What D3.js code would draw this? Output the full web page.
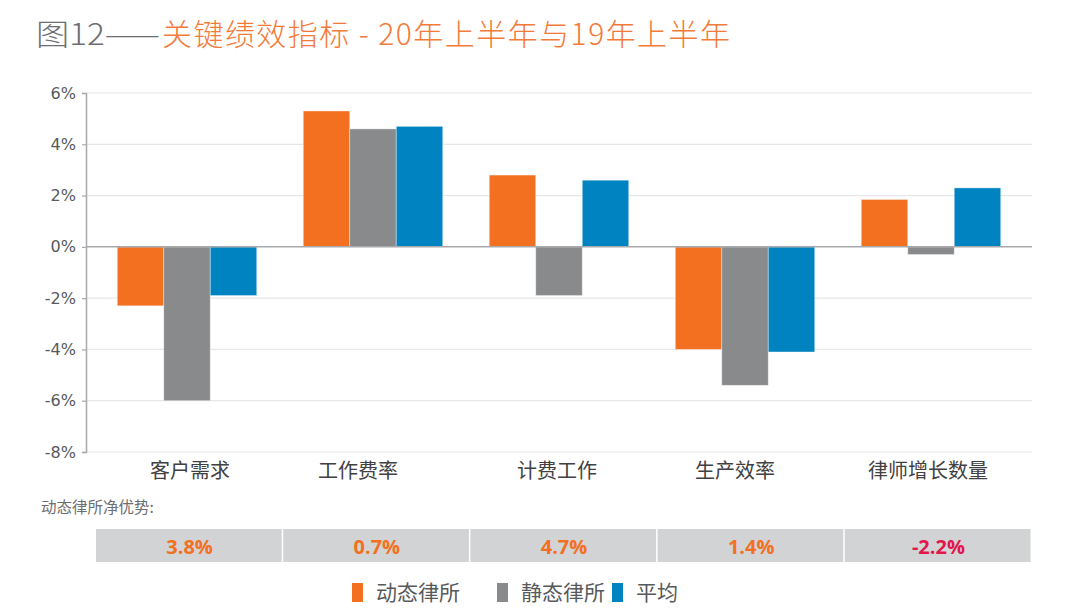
<!DOCTYPE html>
<html>
<head>
<meta charset="utf-8">
<script src="https://cdn.jsdelivr.net/npm/d3@7"></script>
<style>
  body { margin: 0; background: #fff; }
  svg { display: block; font-family: "Noto Sans CJK SC", "Noto Sans", sans-serif; }
</style>
</head>
<body>
<div id="chart"></div>
<script>
const categories = ["客户需求", "工作费率", "计费工作", "生产效率", "律师增长数量"];
const seriesNames = ["动态律所", "静态律所", "平均"];
const dynamicFirms = [-2.3, 5.3, 2.8, -4.0, 1.85];
const staticFirms = [-6.0, 4.6, -1.9, -5.4, -0.3];
const average = [-1.9, 4.7, 2.6, -4.1, 2.3];
const netAdvantage = ["3.8%", "0.7%", "4.7%", "1.4%", "-2.2%"];
const yTicks = [6, 4, 2, 0, -2, -4, -6, -8];

const colors = ["#f37021", "#898a8c", "#0083c1"];
const series = [dynamicFirms, staticFirms, average];
// the source centres some labels a little off their bar groups
const labelShift = [3, -15, -2, -10, -3];

const width = 1080, height = 612;
const plotLeft = 86, plotRight = 1032, plotTop = 93, plotBottom = 452;

const svg = d3.select("#chart").append("svg")
    .attr("width", width)
    .attr("height", height);

// title
svg.append("text")
    .attr("x", 36)
    .attr("y", 45)
    .attr("fill", "#6d6e71")
    .attr("textLength", 124)
    .attr("lengthAdjust", "spacingAndGlyphs")
    .style("font-size", "30px")
    .style("font-weight", "300")
    .text("图12——");
svg.append("text")
    .attr("x", 162)
    .attr("y", 45)
    .attr("fill", "#f37a3a")
    .attr("textLength", 568)
    .attr("lengthAdjust", "spacing")
    .style("font-size", "30px")
    .style("font-weight", "300")
    .text("关键绩效指标 - 20年上半年与19年上半年");

const y = d3.scaleLinear().domain([-8, 6]).range([plotBottom, plotTop]);
const x = d3.scaleBand().domain(categories).range([plotLeft, plotRight])
    .paddingInner(0.25).paddingOuter(0.168);
const xs = d3.scaleBand().domain(d3.range(3)).range([0, x.bandwidth()]);

// grid
svg.append("g")
  .selectAll("line")
  .data(yTicks.filter(d => d !== 0))
  .join("line")
    .attr("x1", plotLeft).attr("x2", plotRight)
    .attr("y1", d => y(d)).attr("y2", d => y(d))
    .attr("stroke", "#e6e7e8")
    .attr("stroke-width", 1.2);

// bars
const groups = svg.append("g")
  .selectAll("g")
  .data(categories)
  .join("g")
    .attr("transform", d => `translate(${x(d)},0)`);

groups.selectAll("rect")
  .data((d, i) => series.map((s, k) => ({k, v: s[i]})))
  .join("rect")
    .attr("x", d => xs(d.k))
    .attr("width", xs.bandwidth())
    .attr("y", d => y(Math.max(0, d.v)))
    .attr("height", d => Math.abs(y(d.v) - y(0)))
    .attr("fill", d => colors[d.k])
    .attr("stroke", "#fff")
    .attr("stroke-opacity", 0.5)
    .attr("stroke-width", 0.8);

// zero line
svg.append("line")
    .attr("x1", plotLeft).attr("x2", plotRight)
    .attr("y1", y(0)).attr("y2", y(0))
    .attr("stroke", "#a7a9ac")
    .attr("stroke-width", 1.5);

// y axis
const yAxis = svg.append("g")
    .attr("transform", `translate(${plotLeft},0)`)
    .call(d3.axisLeft(y).tickValues(yTicks).tickSize(4).tickFormat(d => d + "%"));
yAxis.select(".domain").attr("stroke", "#a7a9ac").attr("stroke-width", 1.5);
yAxis.selectAll(".tick line").attr("stroke", "#a7a9ac").attr("stroke-width", 1.2);
yAxis.selectAll(".tick text")
    .attr("x", -10)
    .attr("fill", "#58595b")
    .style("font-family", "'DejaVu Sans', sans-serif")
    .style("font-size", "16px");

// category labels
svg.append("g")
  .selectAll("text")
  .data(categories)
  .join("text")
    .attr("x", (d, i) => x(d) + x.bandwidth() / 2 + labelShift[i])
    .attr("y", 478)
    .attr("text-anchor", "middle")
    .attr("fill", "#414042")
    .style("font-size", "20px")
    .text(d => d);

// net advantage row
svg.append("text")
    .attr("x", 41)
    .attr("y", 513)
    .attr("fill", "#6d6e71")
    .style("font-size", "15.5px")
    .text("动态律所净优势:");

const cellW = (plotRight - 96) / 5;
const cells = svg.append("g")
  .selectAll("g")
  .data(netAdvantage)
  .join("g")
    .attr("transform", (d, i) => `translate(${96 + i * cellW},529)`);
cells.append("rect")
    .attr("width", cellW - 1.5)
    .attr("height", 33)
    .attr("fill", "#d1d3d4");
cells.append("text")
    .attr("x", cellW / 2)
    .attr("y", 25)
    .attr("text-anchor", "middle")
    .attr("fill", d => d.startsWith("-") ? "#e3174b" : "#f37021")
    .style("font-family", "'Open Sans', 'Noto Sans', sans-serif")
    .style("font-weight", "bold")
    .style("font-size", "20px")
    .text(d => d);

// legend
const legendX = [352, 497, 612];
const legend = svg.append("g")
  .selectAll("g")
  .data(seriesNames)
  .join("g")
    .attr("transform", (d, i) => `translate(${legendX[i]},583)`);
legend.append("rect")
    .attr("width", 11)
    .attr("height", 19)
    .attr("fill", (d, i) => colors[i]);
legend.append("text")
    .attr("x", 24)
    .attr("y", 17)
    .attr("fill", "#58595b")
    .style("font-size", "21px")
    .text(d => d);
</script>
</body>
</html>
